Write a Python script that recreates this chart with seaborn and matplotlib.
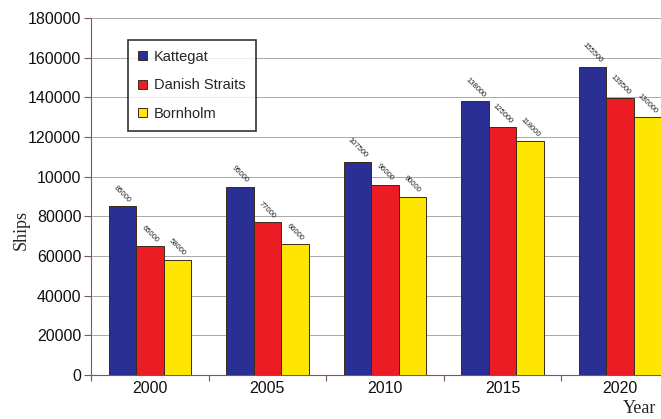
import matplotlib
matplotlib.use('Agg')
import matplotlib.pyplot as plt
import seaborn as sns
import pandas as pd
import numpy as np

# data
years = ['2000', '2005', '2010', '2015', '2020']
kattegat = [85000, 95000, 107500, 138000, 155500]
danish_straits = [65000, 77000, 96000, 125000, 139500]
bornholm = [58000, 66000, 90000, 118000, 130000]
series_names = ['Kattegat', 'Danish Straits', 'Bornholm']
yticks = [0, 20000, 40000, 60000, 80000, 100000, 120000, 140000, 160000, 180000]
ytick_labels = ['0', '20000', '40000', '60000', '80000', '10000',
                '120000', '140000', '160000', '180000']

COLORS = ['#2a2f94', '#ec1c24', '#ffe600']

df = pd.DataFrame({
    'Year': years * 3,
    'Ships': kattegat + danish_straits + bornholm,
    'Region': sum([[n] * len(years) for n in series_names], []),
})

sns.set_style('white')
plt.rcParams['font.family'] = ['Liberation Sans', 'DejaVu Sans']

fig = plt.figure(figsize=(6.61, 4.19), dpi=100)
# axes run slightly past the right edge, as in the reference
ax = fig.add_axes([91 / 661, 0.105, 588 / 661, 0.852])

sns.barplot(data=df, x='Year', y='Ships', hue='Region', palette=COLORS,
            saturation=1, width=0.7, edgecolor='#3a2a1a', linewidth=0.7,
            ax=ax, zorder=3)

# value labels, rotated, above each bar
for cont in ax.containers:
    for bar in cont:
        h = bar.get_height()
        ax.text(bar.get_x() + bar.get_width() / 2, h + 1200, f'{int(h)}',
                rotation=-45, ha='center', va='bottom', fontsize=5.5,
                color='#222222', zorder=4)

ax.set_ylim(0, 180000)
ax.set_yticks(yticks)
ax.set_yticklabels(ytick_labels, fontsize=11.5, color='#111111')
ax.set_xlim(-0.5, 4.5)
ax.tick_params(axis='x', length=0, labelsize=11.5, labelcolor='#111111', pad=4)
ax.tick_params(axis='y', length=5, width=0.8, color='#7a5a50', left=True, pad=2)
ax.set_xticks(np.arange(-0.5, 5, 1), minor=True)
ax.tick_params(axis='x', which='minor', length=4, width=0.8, color='#7a5a50', bottom=True)

ax.grid(axis='y', color='#9a9a9a', linewidth=0.6, zorder=0)
for s in ['top', 'right']:
    ax.spines[s].set_visible(False)
ax.spines['left'].set_color('#7a5a50')
ax.spines['bottom'].set_color('#7a5a50')
ax.spines['left'].set_linewidth(0.8)
ax.spines['bottom'].set_linewidth(0.8)

ax.set_xlabel('')
ax.set_ylabel('')
fig.text(0.032, 0.45, 'Ships', rotation=90, ha='center', va='center',
         fontsize=13, family='Liberation Serif')
fig.text(0.993, 0.005, 'Year', ha='right', va='bottom',
         fontsize=13, family='Liberation Serif')

leg = ax.legend(loc='upper left', bbox_to_anchor=(0.05, 0.96), fontsize=10.5,
                frameon=True, fancybox=False, edgecolor='black',
                handlelength=0.6, handleheight=0.6, labelspacing=1.0,
                borderpad=0.7, handletextpad=0.5)
leg.get_frame().set_linewidth(1.2)
leg.set_title(None)

plt.savefig('out.png', dpi=100, facecolor='white')
